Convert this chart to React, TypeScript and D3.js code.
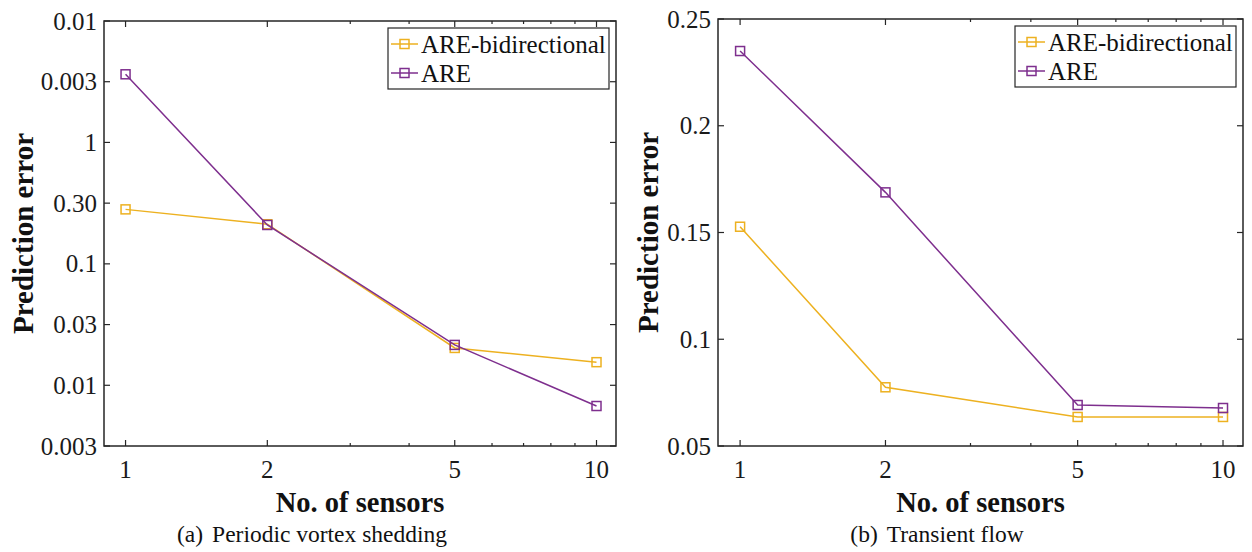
import React from 'react';
import * as d3 from 'd3';

// ---------- data ----------
const sensors = [1, 2, 5, 10];
const xTickValues = [1, 2, 5, 10];
const xTickLabels = ['1', '2', '5', '10'];
const xMinorTicks = [3, 4, 6, 7, 8, 9];

const seriesNames = ['ARE-bidirectional', 'ARE'];
const seriesColors = ['#EDB120', '#7E2F8E'];

// (a) Periodic vortex shedding (log y)
const periodicBidirectional = [0.281, 0.212, 0.0203, 0.0155];
const periodicARE = [3.64, 0.209, 0.0215, 0.00675];
const periodicYTicks = [0.0031623, 0.01, 0.031623, 0.1, 0.31623, 1, 3.1623, 10];
const periodicYTickLabels = ['0.003', '0.01', '0.03', '0.1', '0.30', '1', '0.003', '0.01'];

// (b) Transient flow (linear y)
const transientBidirectional = [0.1527, 0.0775, 0.0636, 0.0636];
const transientARE = [0.235, 0.1688, 0.0692, 0.0678];
const transientYTicks = [0.05, 0.1, 0.15, 0.2, 0.25];
const transientYTickLabels = ['0.05', '0.1', '0.15', '0.2', '0.25'];

const AXIS = '#262626';
const TEXT = '#1a1a1a';
const FONT = '"Liberation Serif", "Times New Roman", serif';

type PanelProps = {
  left: number; right: number; top: number; bottom: number;
  logY: boolean;
  yDomain: [number, number];
  yTicks: number[];
  yTickLabels: string[];
  series: number[][];
  yLabelX: number;
  captionX: number;
  captionLabel: string;
  captionText: string;
};

function Panel(p: PanelProps) {
  const x = d3.scaleLog().domain([0.9, 11]).range([p.left, p.right]);
  const y = (p.logY ? d3.scaleLog() : d3.scaleLinear()).domain(p.yDomain).range([p.bottom, p.top]);
  const line = d3.line<number>().x((_, i) => x(sensors[i])).y((d) => y(d));
  const ms = 9;
  const majorLen = 6;
  const minorLen = 3;
  const boxLeft = p.right - 228;
  const boxTop = p.top + 7;
  const boxW = 221;
  const boxH = 61;

  return (
    <g>
      {p.series.map((vals, s) => (
        <g key={s}>
          <path d={line(vals) || ''} fill="none" stroke={seriesColors[s]} strokeWidth={1.5} />
          {vals.map((v, i) => (
            <rect key={i} x={x(sensors[i]) - ms / 2} y={y(v) - ms / 2} width={ms} height={ms}
              fill="none" stroke={seriesColors[s]} strokeWidth={1.5} />
          ))}
        </g>
      ))}
      <rect x={p.left} y={p.top} width={p.right - p.left} height={p.bottom - p.top}
        fill="none" stroke={AXIS} strokeWidth={1.5} />
      {xTickValues.map((t) => (
        <g key={'xt' + t}>
          <line x1={x(t)} x2={x(t)} y1={p.bottom} y2={p.bottom - majorLen} stroke={AXIS} strokeWidth={1.2} />
          <line x1={x(t)} x2={x(t)} y1={p.top} y2={p.top + majorLen} stroke={AXIS} strokeWidth={1.2} />
        </g>
      ))}
      {xMinorTicks.map((t) => (
        <g key={'xm' + t}>
          <line x1={x(t)} x2={x(t)} y1={p.bottom} y2={p.bottom - minorLen} stroke={AXIS} strokeWidth={1.2} />
          <line x1={x(t)} x2={x(t)} y1={p.top} y2={p.top + minorLen} stroke={AXIS} strokeWidth={1.2} />
        </g>
      ))}
      {xTickValues.map((t, i) => (
        <text key={'xl' + t} x={x(t)} y={478} textAnchor="middle" fontSize={25} fill={TEXT} fontFamily={FONT}>
          {xTickLabels[i]}
        </text>
      ))}
      {p.yTicks.map((t, i) => (
        <g key={'yt' + i}>
          <line x1={p.left} x2={p.left + majorLen} y1={y(t)} y2={y(t)} stroke={AXIS} strokeWidth={1.2} />
          <line x1={p.right} x2={p.right - majorLen} y1={y(t)} y2={y(t)} stroke={AXIS} strokeWidth={1.2} />
          <text x={p.left - 7} y={y(t) + 8.5} textAnchor="end" fontSize={25} fill={TEXT} fontFamily={FONT}>
            {p.yTickLabels[i]}
          </text>
        </g>
      ))}
      <text x={(p.left + p.right) / 2} y={512} textAnchor="middle" fontSize={28.5} fontWeight="bold"
        fill="#111" fontFamily={FONT}>No. of sensors</text>
      <text transform={`translate(${p.yLabelX},${(p.top + p.bottom) / 2}) rotate(-90)`} textAnchor="middle"
        fontSize={29} fontWeight="bold" fill="#111" fontFamily={FONT}>Prediction error</text>
      <rect x={boxLeft} y={boxTop} width={boxW} height={boxH} fill="#fff" stroke={AXIS} strokeWidth={1.2} />
      {seriesNames.map((name, s) => {
        const ry = boxTop + 16 + s * 29;
        return (
          <g key={name}>
            <line x1={boxLeft + 3} x2={boxLeft + 30} y1={ry} y2={ry} stroke={seriesColors[s]} strokeWidth={1.5} />
            <rect x={boxLeft + 16.5 - ms / 2} y={ry - ms / 2} width={ms} height={ms} fill="none"
              stroke={seriesColors[s]} strokeWidth={1.5} />
            <text x={boxLeft + 33} y={ry + 9} fontSize={25} fill="#111" fontFamily={FONT}>{name}</text>
          </g>
        );
      })}
      <text x={p.captionX} y={542} textAnchor="middle" fontSize={23.5} fill="#111" fontFamily={FONT}>
        {p.captionLabel}<tspan dx={9}>{p.captionText}</tspan>
      </text>
    </g>
  );
}

export default function App() {
  return (
    <div style={{ position: 'fixed', left: 0, top: 0, width: 1252, height: 552, background: '#fff' }}>
      <svg width={1252} height={552} style={{ display: 'block' }}>
        <rect width={1252} height={552} fill="#fff" />
        <Panel left={104} right={616} top={21} bottom={446} logY={true}
          yDomain={[0.0031623, 10]} yTicks={periodicYTicks} yTickLabels={periodicYTickLabels}
          series={[periodicBidirectional, periodicARE]} yLabelX={33} captionX={312}
          captionLabel="(a)" captionText="Periodic vortex shedding" />
        <Panel left={718} right={1243} top={19} bottom={446} logY={false}
          yDomain={[0.05, 0.25]} yTicks={transientYTicks} yTickLabels={transientYTickLabels}
          series={[transientBidirectional, transientARE]} yLabelX={658} captionX={937}
          captionLabel="(b)" captionText="Transient flow" />
      </svg>
    </div>
  );
}
